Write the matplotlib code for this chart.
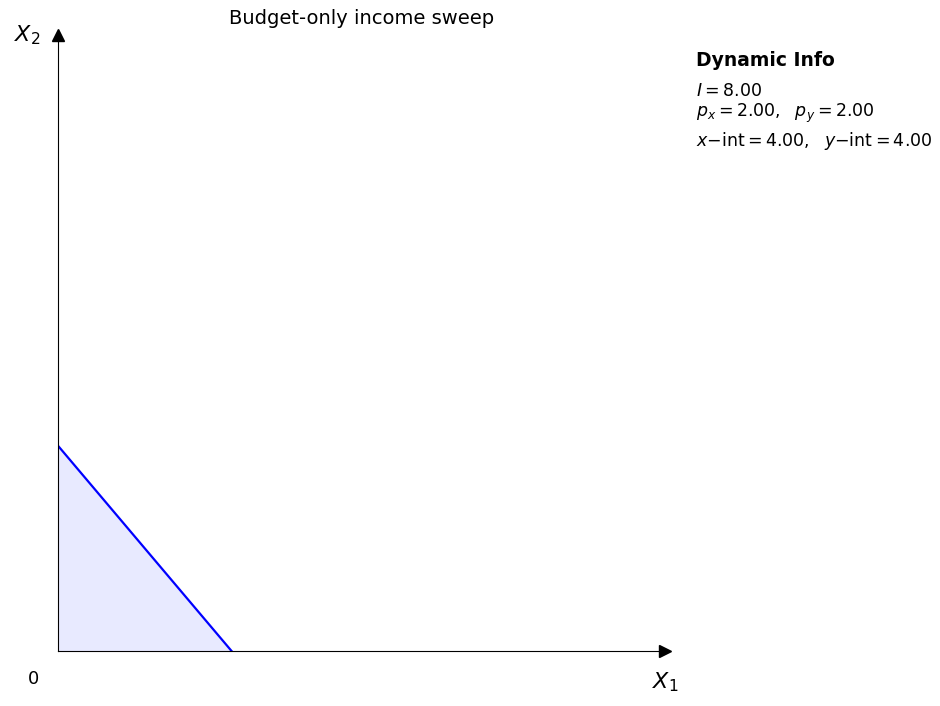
import numpy as np
import matplotlib.pyplot as plt

income = 8.0
px = 2.0
py = 2.0
x_max = 14
y_max = 12

x_int = income / px
y_int = income / py

fig = plt.figure(figsize=(9.4, 7.06), dpi=100)
ax = fig.add_axes([0.0617, 0.078, 0.646, 0.872])

xs = np.array([0, x_int])
ys = (income - px * xs) / py
ax.fill_between(xs, 0, ys, color='#e8eaff', lw=0)
ax.plot(xs, ys, color='blue', lw=1.6)

ax.set_xlim(0, x_max)
ax.set_ylim(0, y_max)
ax.set_xticks([])
ax.set_yticks([])
for s in ['top', 'right']:
    ax.spines[s].set_visible(False)
ax.plot(1, 0, '>k', ms=9, transform=ax.transAxes, clip_on=False)
ax.plot(0, 1, '^k', ms=9, transform=ax.transAxes, clip_on=False)

ax.text(1.0, -0.05, '$X_1$', transform=ax.transAxes, fontsize=16, ha='center', va='center')
ax.text(-0.05, 1.0, '$X_2$', transform=ax.transAxes, fontsize=16, ha='center', va='center')
ax.text(-0.04, -0.045, '0', transform=ax.transAxes, fontsize=13, ha='center', va='center')
ax.set_title('Budget-only income sweep', fontsize=14, x=0.5, y=1.005)

fig.text(0.740, 0.914, 'Dynamic Info', fontsize=13.5, fontweight='bold', va='center')
fig.text(0.740, 0.871, f'$I = {income:.2f}$', fontsize=12.5, va='center')
fig.text(0.740, 0.840, f'$p_x = {px:.2f},\\ \\ p_y = {py:.2f}$', fontsize=12.5, va='center')
fig.text(0.740, 0.800, f'$x{{-}}\\mathrm{{int}} = {x_int:.2f},\\ \\ y{{-}}\\mathrm{{int}} = {y_int:.2f}$',
         fontsize=12.5, va='center')

fig.savefig('out.png', dpi=100)
